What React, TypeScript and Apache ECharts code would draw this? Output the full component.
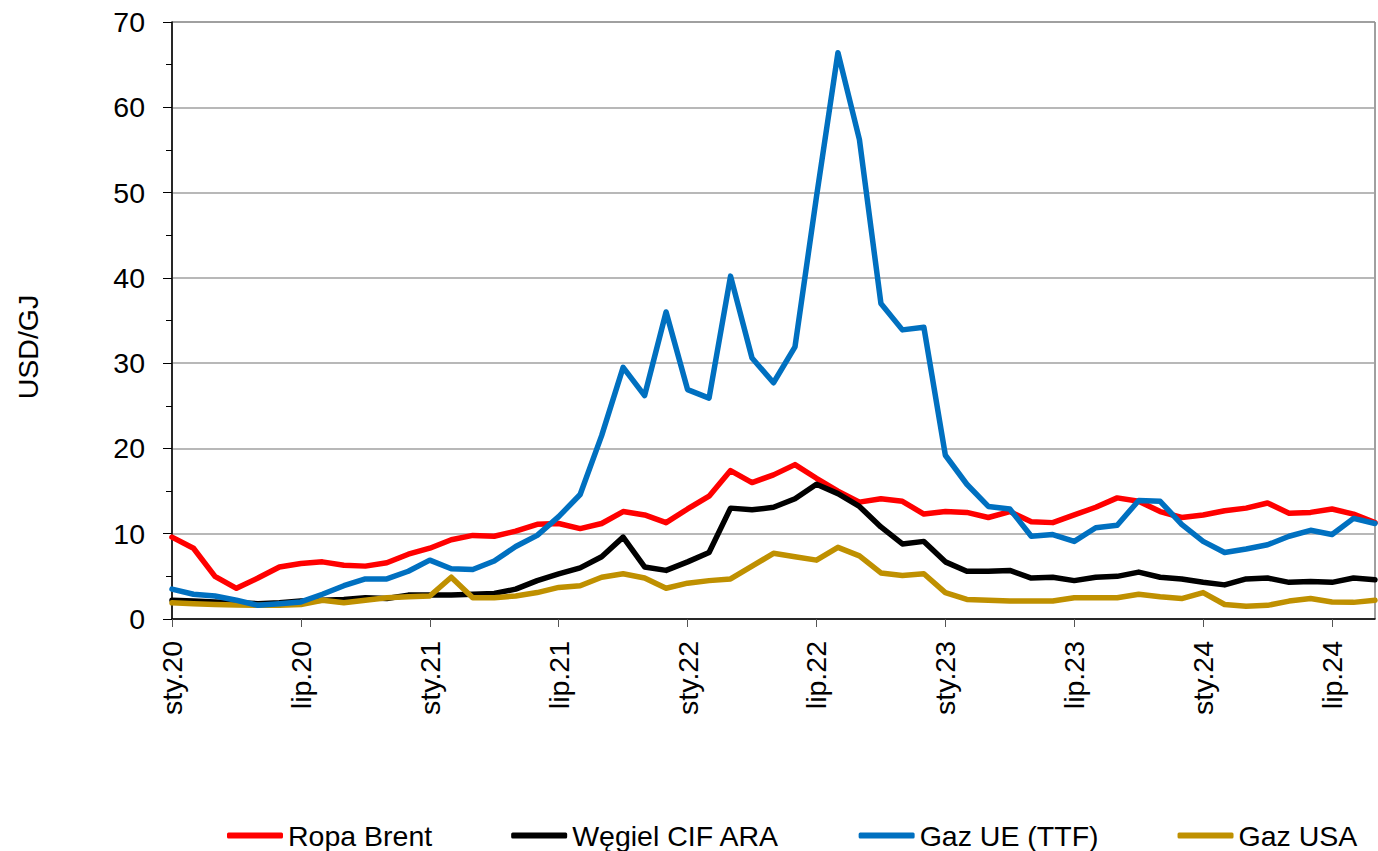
import React, { useEffect, useRef } from "react";
import * as echarts from "echarts";

const categories = [
  "sty.20","lut.20","mar.20","kwi.20","maj.20","cze.20","lip.20","sie.20","wrz.20","paź.20","lis.20","gru.20",
  "sty.21","lut.21","mar.21","kwi.21","maj.21","cze.21","lip.21","sie.21","wrz.21","paź.21","lis.21","gru.21",
  "sty.22","lut.22","mar.22","kwi.22","maj.22","cze.22","lip.22","sie.22","wrz.22","paź.22","lis.22","gru.22",
  "sty.23","lut.23","mar.23","kwi.23","maj.23","cze.23","lip.23","sie.23","wrz.23","paź.23","lis.23","gru.23",
  "sty.24","lut.24","mar.24","kwi.24","maj.24","cze.24","lip.24","sie.24","wrz.24",
];

const ropaBrent = [
  9.6, 8.3, 5.0, 3.6, 4.8, 6.1, 6.5, 6.7, 6.3, 6.2, 6.6, 7.6,
  8.3, 9.3, 9.8, 9.7, 10.3, 11.1, 11.2, 10.6, 11.2, 12.6, 12.2, 11.3,
  12.9, 14.4, 17.4, 16.0, 16.9, 18.1, 16.5, 15.0, 13.7, 14.1, 13.8, 12.3,
  12.6, 12.5, 11.9, 12.6, 11.4, 11.3, 12.2, 13.1, 14.2, 13.8, 12.6, 11.9,
  12.2, 12.7, 13.0, 13.6, 12.4, 12.5, 12.9, 12.3, 11.3,
];

const wegielCifAra = [
  2.2, 2.1, 2.0, 1.9, 1.8, 1.9, 2.1, 2.2, 2.3, 2.5, 2.4, 2.8,
  2.8, 2.8, 2.9, 3.0, 3.5, 4.5, 5.3, 6.0, 7.3, 9.6, 6.1, 5.7,
  6.7, 7.8, 13.0, 12.8, 13.1, 14.1, 15.8, 14.7, 13.2, 10.8, 8.8, 9.1,
  6.7, 5.6, 5.6, 5.7, 4.8, 4.9, 4.5, 4.9, 5.0, 5.5, 4.9, 4.7,
  4.3, 4.0, 4.7, 4.8, 4.3, 4.4, 4.3, 4.8, 4.6,
];

const gazUeTtf = [
  3.5, 2.9, 2.7, 2.2, 1.6, 1.8, 2.0, 2.9, 3.9, 4.7, 4.7, 5.6,
  6.9, 5.9, 5.8, 6.8, 8.5, 9.8, 12.0, 14.6, 21.5, 29.5, 26.2, 36.0,
  26.9, 25.9, 40.2, 30.6, 27.7, 31.9, 49.5, 66.4, 56.2, 37.0, 33.9, 34.2,
  19.2, 15.8, 13.2, 12.9, 9.7, 9.9, 9.1, 10.7, 11.0, 13.9, 13.8, 11.1,
  9.1, 7.8, 8.2, 8.7, 9.7, 10.4, 9.9, 11.8, 11.2,
];

const gazUsa = [
  1.9, 1.8, 1.7, 1.65, 1.6, 1.6, 1.7, 2.2, 1.9, 2.2, 2.5, 2.6,
  2.7, 4.9, 2.5, 2.5, 2.7, 3.1, 3.7, 3.9, 4.9, 5.3, 4.8, 3.6,
  4.2, 4.5, 4.7, 6.2, 7.7, 7.3, 6.9, 8.4, 7.4, 5.4, 5.1, 5.3,
  3.1, 2.3, 2.2, 2.1, 2.1, 2.1, 2.5, 2.5, 2.5, 2.9, 2.6, 2.4,
  3.1, 1.7, 1.5, 1.6, 2.1, 2.4, 2.0, 1.95, 2.2,
];

const seriesNames = ["Ropa Brent", "Węgiel CIF ARA", "Gaz UE (TTF)", "Gaz USA"];
const seriesColors = ["#FF0000", "#000000", "#0070C0", "#BF9000"];
const seriesData = [ropaBrent, wegielCifAra, gazUeTtf, gazUsa];
const yAxisTitle = "USD/GJ";

const FONT = "'Liberation Sans', Arial, sans-serif";

export default function App() {
  const ref = useRef<HTMLDivElement>(null);

  useEffect(() => {
    document.body.style.margin = "0";
    if (!ref.current) return;
    const chart = echarts.init(ref.current, undefined, { renderer: "svg" });
    chart.setOption({
      animation: false,
      backgroundColor: "#ffffff",
      textStyle: { fontFamily: FONT },
      grid: {
        left: 172,
        right: 3,
        top: 22,
        bottom: 232,
        show: true,
        borderColor: "#404040",
        borderWidth: 1,
      },
      graphic: [
        {
          type: "text",
          x: 28,
          y: 347,
          rotation: Math.PI / 2,
          style: {
            text: yAxisTitle,
            fontSize: 28.5,
            fontFamily: FONT,
            fill: "#000",
            align: "center",
            verticalAlign: "middle",
          },
        },
      ],
      legend: {
        top: 816,
        left: 222,
        itemGap: 79,
        itemWidth: 56,
        itemHeight: 6,
        icon: "roundRect",
        textStyle: { fontSize: 28.5, color: "#000", fontFamily: FONT },
        data: seriesNames,
      },
      xAxis: {
        type: "category",
        data: categories,
        boundaryGap: false,
        axisLine: { lineStyle: { color: "#000", width: 1.5 } },
        axisTick: { show: true, interval: 5, length: 8, lineStyle: { color: "#555" } },
        axisLabel: {
          interval: 5,
          rotate: 90,
          margin: 22,
          fontSize: 28.5,
          color: "#000",
          fontFamily: FONT,
        },
        splitLine: { show: false },
      },
      yAxis: {
        type: "value",
        min: 0,
        max: 70,
        interval: 10,
        axisLine: { show: true, lineStyle: { color: "#000", width: 1.5 } },
        axisTick: { show: true, length: 9, lineStyle: { color: "#000" } },
        minorTick: { show: true, splitNumber: 2, length: 6, lineStyle: { color: "#000" } },
        axisLabel: { margin: 27, fontSize: 28.5, color: "#000", fontFamily: FONT },
        splitLine: { show: true, lineStyle: { color: "#a0a0a0", width: 1.5 } },
      },
      series: seriesNames.map((name, i) => ({
        name,
        type: "line",
        data: seriesData[i],
        showSymbol: false,
        symbol: "none",
        color: seriesColors[i],
        lineStyle: { color: seriesColors[i], width: 5.5, cap: "round", join: "round" },
        z: i === 2 ? 3 : 2,
      })),
    });
    return () => chart.dispose();
  }, []);

  return <div ref={ref} style={{ width: 1378, height: 851 }} />;
}
